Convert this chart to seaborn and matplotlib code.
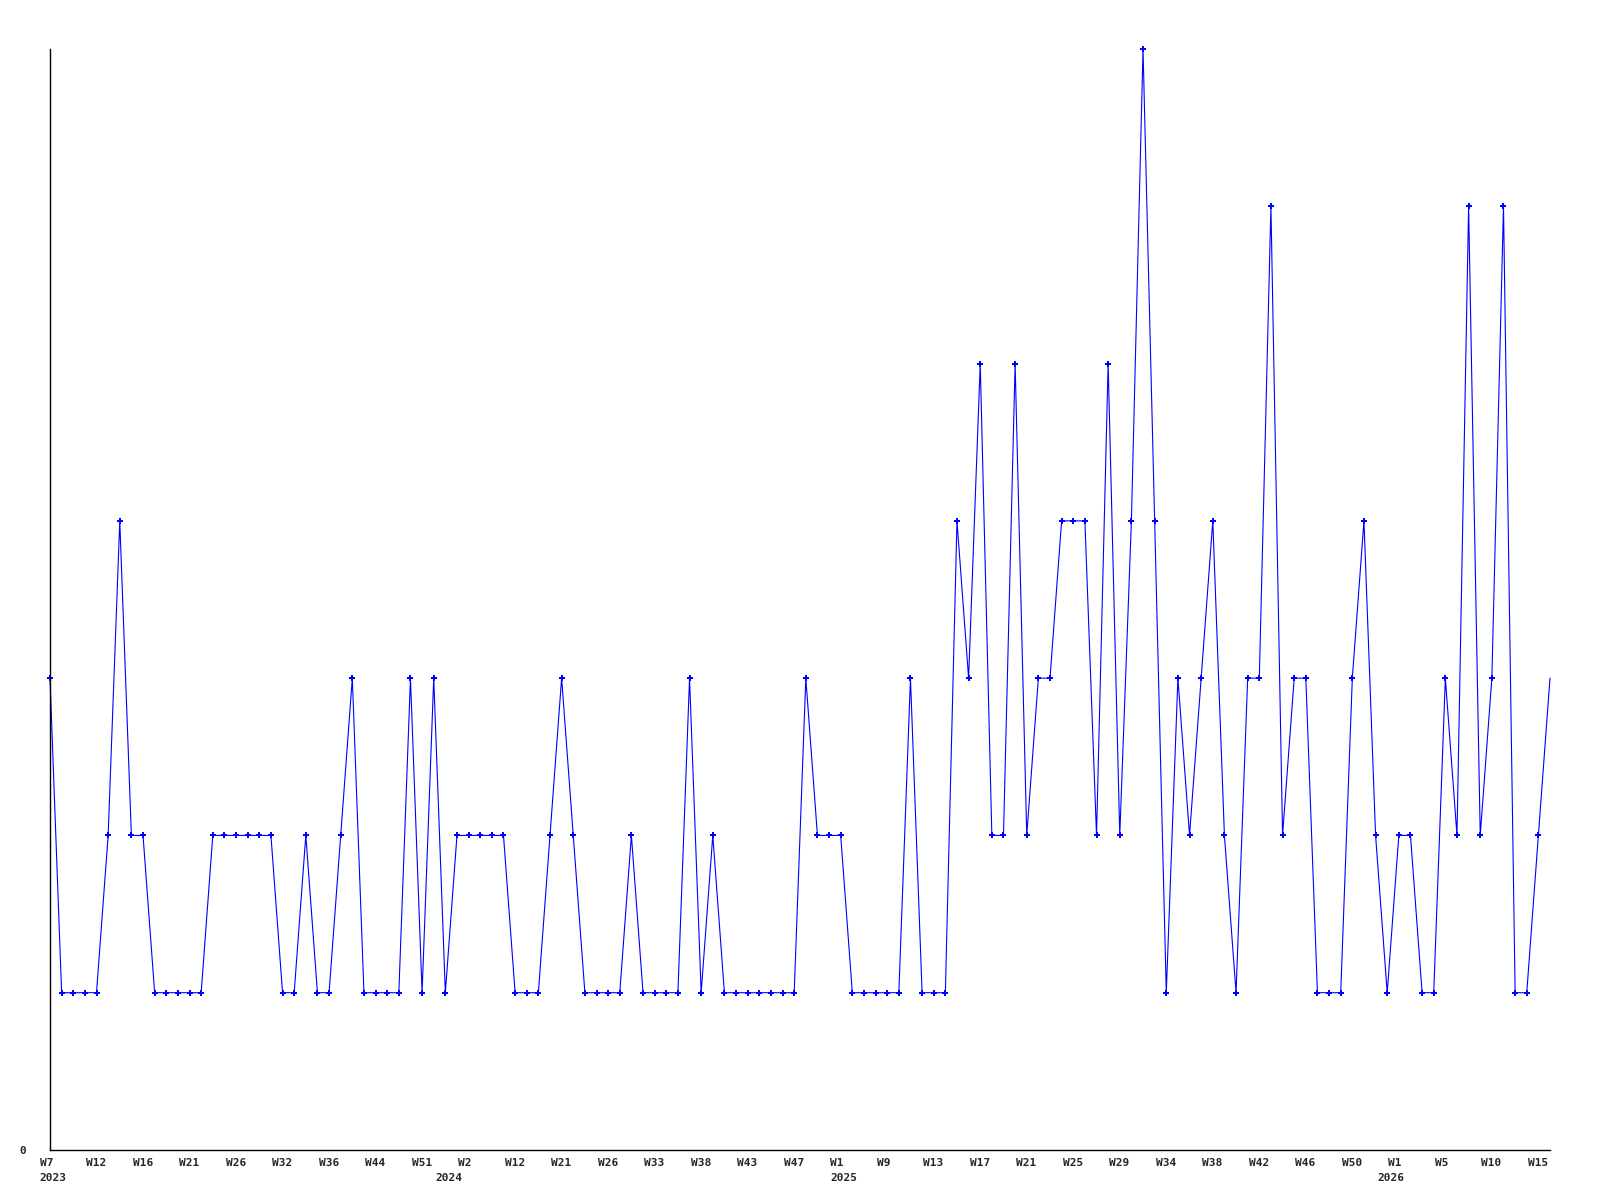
import numpy as np
import pandas as pd
import matplotlib
matplotlib.use("Agg")
import matplotlib.pyplot as plt
import matplotlib.transforms as mtransforms
import seaborn as sns

# weekly counts
values = [3, 1, 1, 1, 1, 2, 4, 2, 2, 1,
          1, 1, 1, 1, 2, 2, 2, 2, 2, 2,
          1, 1, 2, 1, 1, 2, 3, 1, 1, 1,
          1, 3, 1, 3, 1, 2, 2, 2, 2, 2,
          1, 1, 1, 2, 3, 2, 1, 1, 1, 1,
          2, 1, 1, 1, 1, 3, 1, 2, 1, 1,
          1, 1, 1, 1, 1, 3, 2, 2, 2, 1,
          1, 1, 1, 1, 3, 1, 1, 1, 4, 3,
          5, 2, 2, 5, 2, 3, 3, 4, 4, 4,
          2, 5, 2, 4, 7, 4, 1, 3, 2, 3,
          4, 2, 1, 3, 3, 6, 2, 3, 3, 1,
          1, 1, 3, 4, 2, 1, 2, 2, 1, 1,
          3, 2, 6, 2, 3, 6, 1, 1, 2, 3]

# week tick labels, one every 4th point
week_labels = ['W7', 'W12', 'W16', 'W21', 'W26', 'W32', 'W36', 'W44', 'W51',
               'W2', 'W12', 'W21', 'W26', 'W33', 'W38', 'W43', 'W47',
               'W1', 'W9', 'W13', 'W17', 'W21', 'W25', 'W29', 'W34', 'W38',
               'W42', 'W46', 'W50', 'W1', 'W5', 'W10', 'W15']
tick_step = 4

# year captions and the point they sit under
years = ['2023', '2024', '2025', '2026']
year_points = [0, 36, 68, 116]
year_shift_px = [3, -20, 3, -8]

df = pd.DataFrame({'idx': np.arange(len(values)), 'count': values})

sns.set_style('white')
plt.rcParams['font.family'] = ['DejaVu Sans Mono']
plt.rcParams['font.weight'] = 'bold'

fig, ax = plt.subplots(figsize=(16, 12), dpi=100)
fig.subplots_adjust(left=50/1600, right=1550/1600, bottom=50/1200, top=1 - 49/1200)

sns.lineplot(data=df, x='idx', y='count', ax=ax, color='#0000ff', linewidth=0.8,
             marker='P', markersize=4.5, markeredgewidth=0,
             markevery=slice(0, len(values) - 1), clip_on=False)

ax.set_xlim(0, len(values) - 1)
ax.set_ylim(0, 7)
sns.despine(ax=ax)
for s in ['left', 'bottom']:
    ax.spines[s].set_color('black')
    ax.spines[s].set_linewidth(1)

ax.set_yticks([0])
ax.set_yticklabels(['0'], fontsize=8, fontweight='bold')
ax.tick_params(axis='y', length=0, pad=17)

ax.set_xticks(np.arange(0, len(values), tick_step))
ax.set_xticklabels(week_labels, fontsize=8, fontweight='bold', ha='left')
ax.tick_params(axis='x', length=0, pad=5.5)
shift = mtransforms.ScaledTranslation(-10.5 / 100, 0, fig.dpi_scale_trans)
for lab in ax.get_xticklabels():
    lab.set_transform(lab.get_transform() + shift)

for yr, p, dx in zip(years, year_points, year_shift_px):
    ax.annotate(yr, xy=(p, 0), xycoords=('data', 'axes fraction'),
                xytext=(dx, -28), textcoords='offset pixels',
                ha='center', va='center', fontsize=8, fontweight='bold')

ax.set_xlabel('')
ax.set_ylabel('')

fig.savefig('out.png', dpi=100)
